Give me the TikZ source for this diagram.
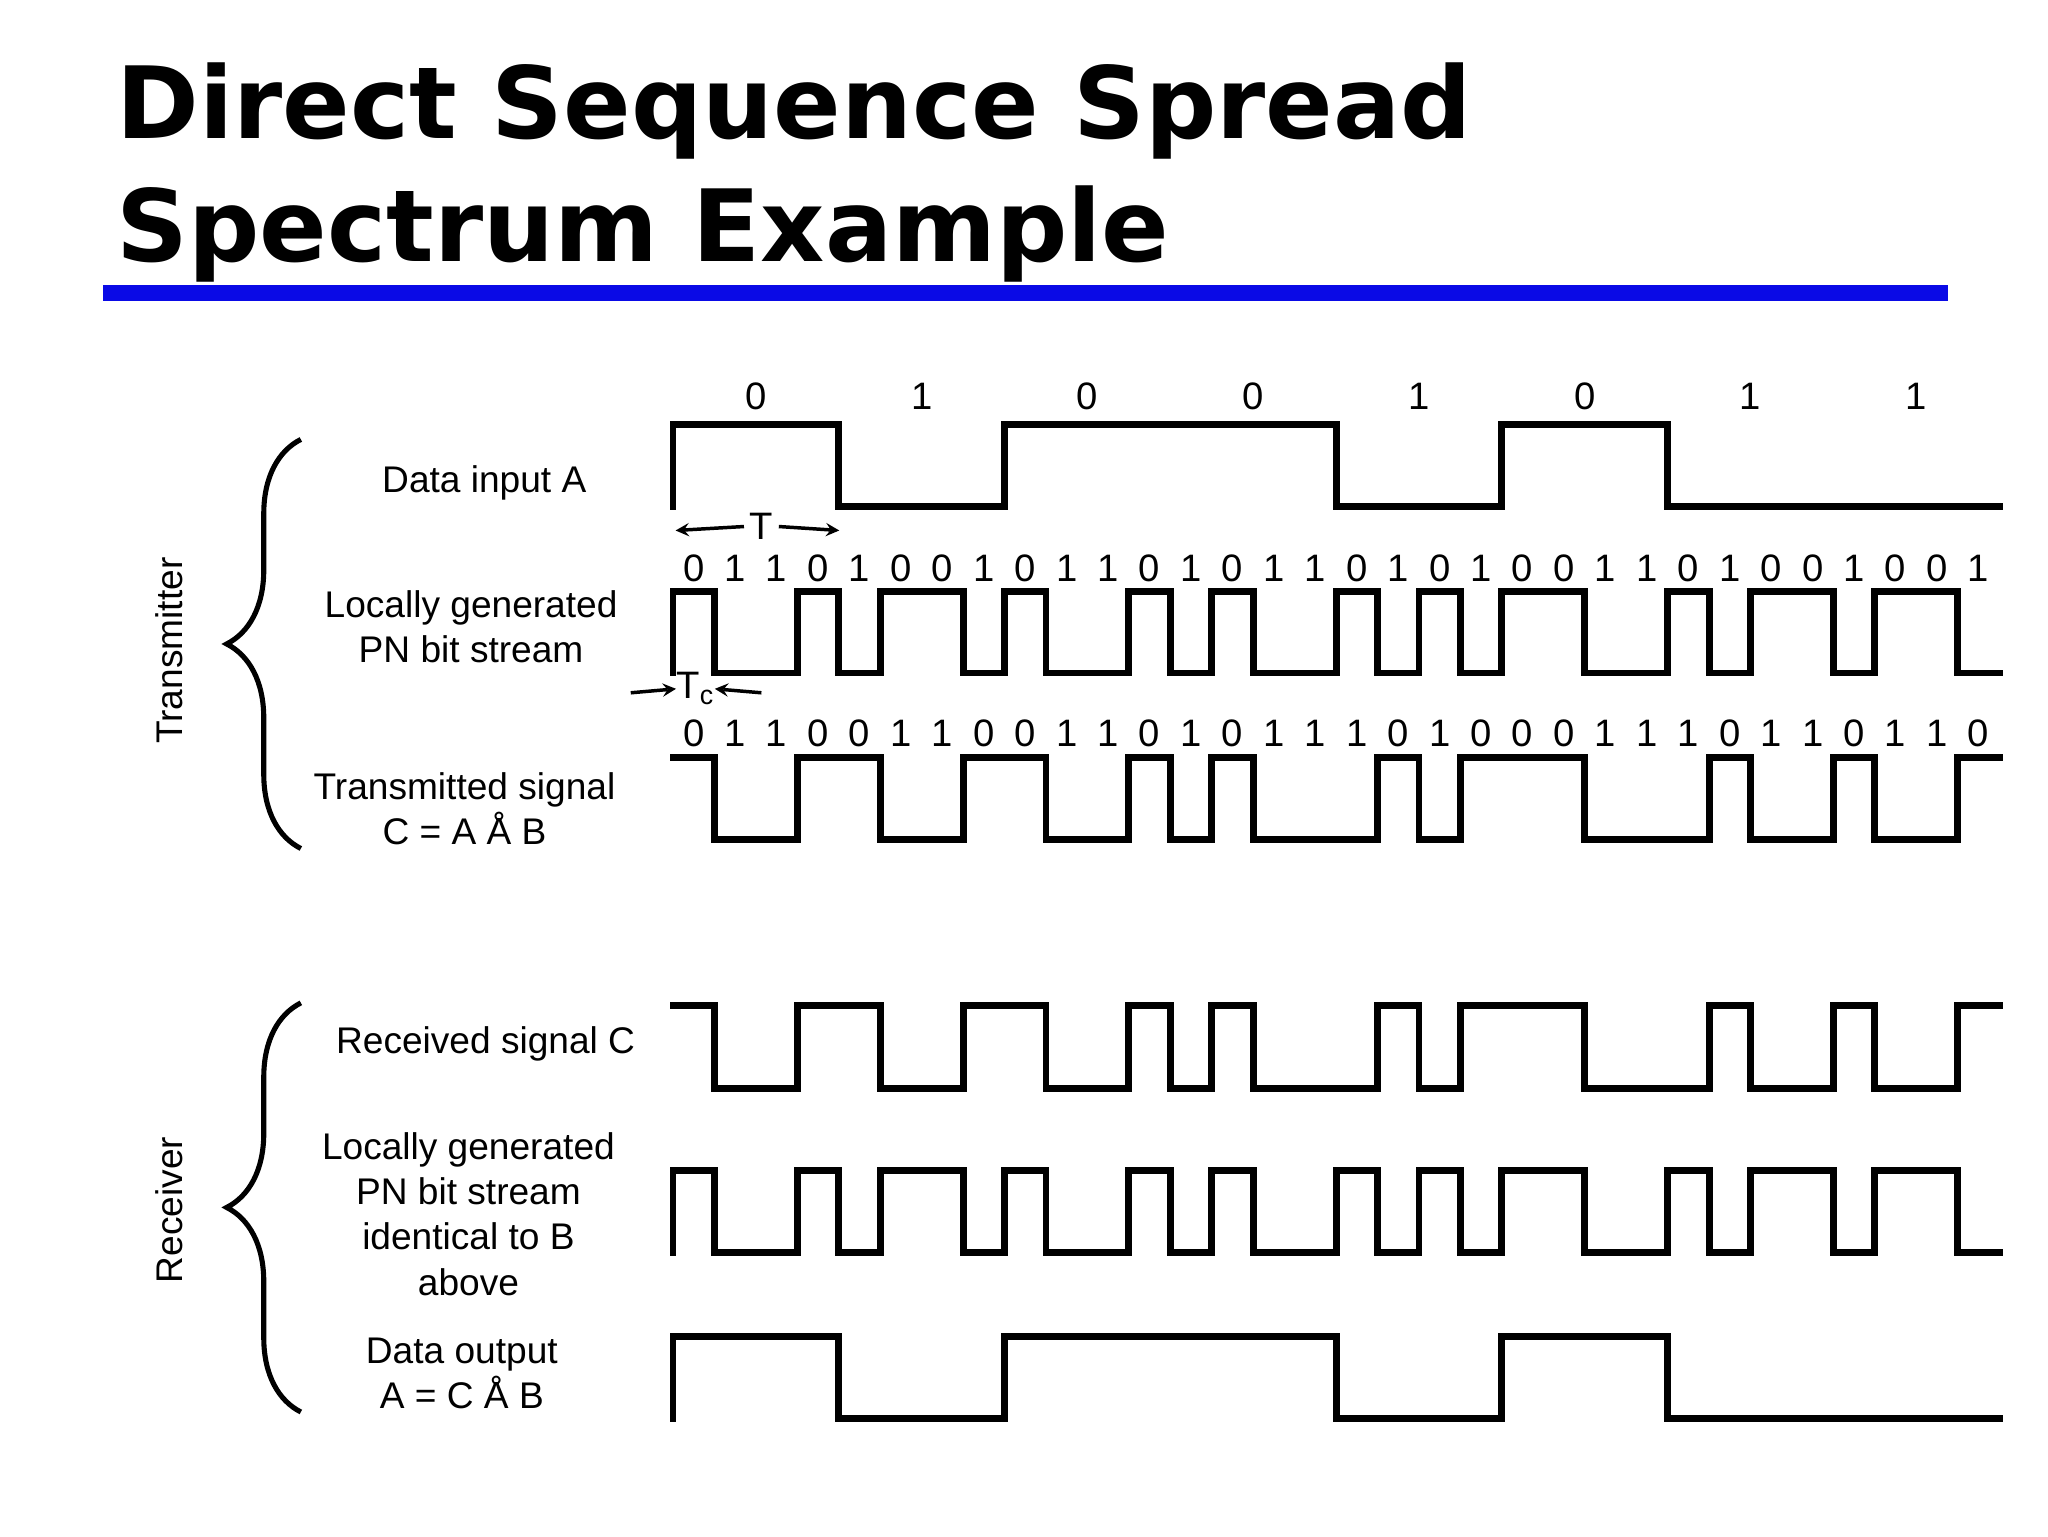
\documentclass[tikz,border=0pt]{standalone}
\usepackage{fontspec}
\setmainfont{Liberation Sans}
\newfontfamily\titlefont{DejaVu Sans}
\usetikzlibrary{decorations.pathreplacing}
\definecolor{rulecolor}{RGB}{10,10,230}
\tikzset{
  wave/.style={line width=3pt, line cap=rect, line join=miter},
  lbl/.style={align=center, font=\fontsize{16}{19.5}\selectfont},
  bit/.style={font=\fontsize{16.5}{20}\selectfont, inner sep=0pt},
  side/.style={font=\fontsize{16}{20}\selectfont, rotate=90},
  brace/.style={decorate, decoration={brace, amplitude=32pt}, line width=2.2pt}
}
% #1 high y, #2 low y, #3 step, #4 bits (0 = high)
\newcommand{\wavetrack}[4]{%
  \foreach \b [count=\i from 0, remember=\b as \p (initially 2)] in #4{%
    \pgfmathsetmacro\xa{510+\i*#3}
    \pgfmathsetmacro\xb{\xa+#3}
    \ifnum\b=0 \def\yy{#1}\else\def\yy{#2}\fi
    \draw[wave] (\xa,\yy) -- (\xb,\yy);
    \ifnum\p=2 \else\ifnum\p=\b \else
      \draw[wave] (\xa,#1) -- (\xa,#2);
    \fi\fi
  }}
\newcommand{\bitrow}[4]{% #1 y, #2 step, #3 bits, #4 name
  \foreach \b [count=\i from 0] in #3{%
    \node[bit] (#4-\i) at ({510+(\i+0.5)*#2},#1) {\b};
  }}
\def\dataA{0,1,0,0,1,0,1,1}
\def\pnB{0,1,1,0,1,0,0,1,0,1,1,0,1,0,1,1,0,1,0,1,0,0,1,1,0,1,0,0,1,0,0,1}
\def\sigC{0,1,1,0,0,1,1,0,0,1,1,0,1,0,1,1,1,0,1,0,0,0,1,1,1,0,1,1,0,1,1,0}
\begin{document}
\begin{tikzpicture}[x=0.02cm, y=-0.02cm]
  \useasboundingbox (0,0) rectangle (1552,1164);
  % title
  \node[anchor=base west, inner sep=0pt, font=\titlefont\bfseries\fontsize{43}{48}\selectfont] (title1) at (88,105) {Direct Sequence Spread};
  \node[anchor=base west, inner sep=0pt, font=\titlefont\bfseries\fontsize{43}{48}\selectfont] (title2) at (88,198) {Spectrum Example};
  \fill[rulecolor] (78,216) rectangle (1476,228);
  % bit labels
  \bitrow{300}{125.625}{\dataA}{a}
  \bitrow{431}{31.406}{\pnB}{b}
  \bitrow{556}{31.406}{\sigC}{c}
  % transmitter waveforms
  \wavetrack{322}{384}{125.625}{\dataA}
  \draw[wave] (510,322) -- (510,384);
  \wavetrack{448}{510}{31.406}{\pnB}
  \draw[wave] (510,448) -- (510,510);
  \wavetrack{574}{636}{31.406}{\sigC}
  % receiver waveforms
  \wavetrack{762}{825}{31.406}{\sigC}
  \wavetrack{887}{949}{31.406}{\pnB}
  \draw[wave] (510,887) -- (510,949);
  \wavetrack{1013}{1075}{125.625}{\dataA}
  \draw[wave] (510,1013) -- (510,1075);
  % T and Tc markers
  \node[bit] (T) at (577,399) {T};
  \coordinate (Tl) at (512,402);
  \coordinate (Tr) at (636,402);
  \draw[-stealth, line width=1.5pt] (T.west) ++(-4,0) -- (Tl);
  \draw[-stealth, line width=1.5pt] (T.east) ++(4,0) -- (Tr);
  \node[bit] (Tc) at (527,522) {T\textsubscript{c}};
  \coordinate (Tcl) at (478,525);
  \coordinate (Tcr) at (577,525);
  \draw[-stealth, line width=1.5pt] (Tcl) -- (Tc.west);
  \draw[-stealth, line width=1.5pt] (Tcr) -- (Tc.east);
  % row labels
  \node[lbl] (lblA) at (367,366) {Data input A};
  \node[lbl] (lblB) at (357,475) {Locally generated\\PN bit stream};
  \node[lbl] (lblC) at (352,613) {Transmitted signal\\C = A Å B};
  \node[lbl] (lblR) at (368,791) {Received signal C};
  \node[lbl] (lblP) at (355,920) {Locally generated\\PN bit stream\\identical to B\\above};
  \node[lbl] (lblO) at (350,1041) {Data output\\A = C Å B};
  % braces
  \draw[brace] (228,643) -- (228,333);
  \draw[brace] (228,1070) -- (228,760);
  \node[side] (tx) at (128,493) {Transmitter};
  \node[side] (rx) at (128,917) {Receiver};
\end{tikzpicture}
\end{document}
